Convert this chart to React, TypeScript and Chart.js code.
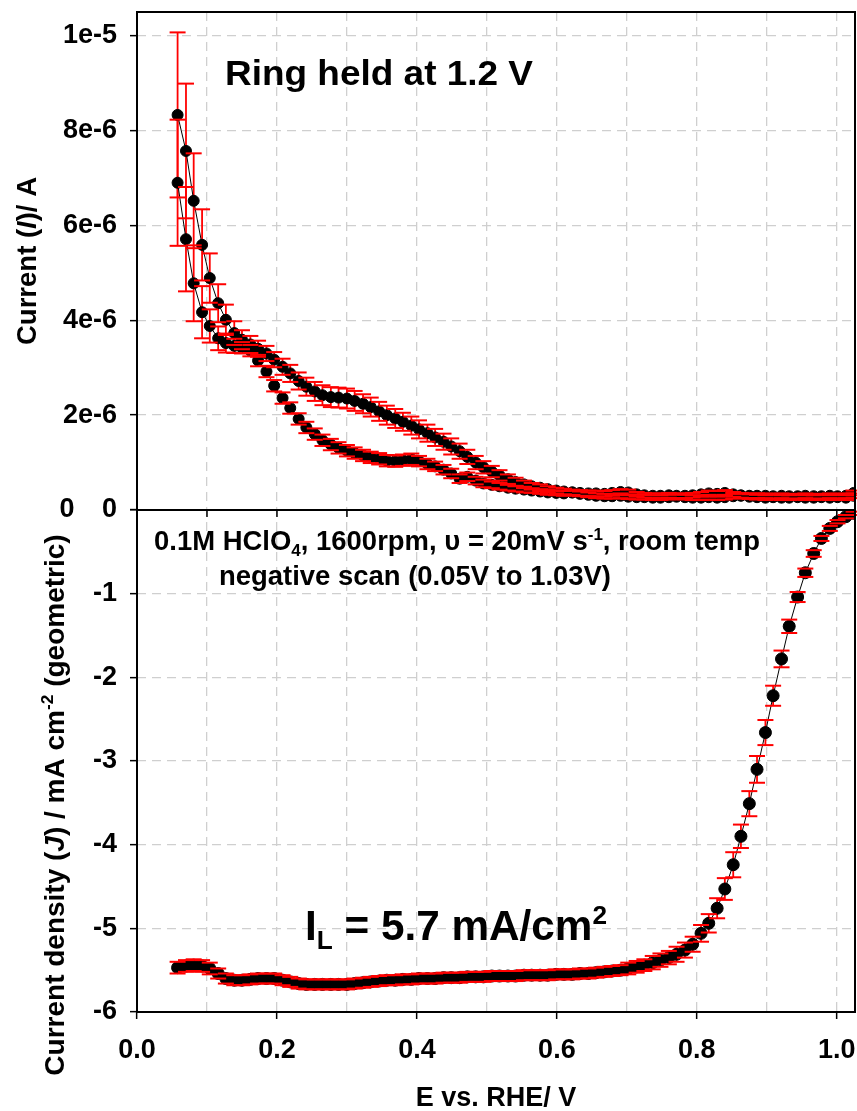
import React, { useEffect, useRef } from 'react';
import { Chart, registerables } from 'chart.js';

Chart.register(...registerables);

// ---------------- DATA ----------------
const potentialV = [
  0.058, 0.070, 0.081, 0.093, 0.104, 0.116, 0.127, 0.139, 0.150, 0.162,
  0.173, 0.185, 0.196, 0.208, 0.219, 0.231, 0.242, 0.254, 0.265, 0.277,
  0.288, 0.300, 0.311, 0.323, 0.334, 0.346, 0.357, 0.369, 0.380, 0.392,
  0.403, 0.415, 0.426, 0.438, 0.449, 0.461, 0.472, 0.484, 0.495, 0.507,
  0.518, 0.530, 0.541, 0.553, 0.564, 0.576, 0.587, 0.599, 0.610, 0.622,
  0.633, 0.645, 0.656, 0.668, 0.679, 0.691, 0.702, 0.714, 0.725, 0.737,
  0.748, 0.760, 0.771, 0.783, 0.794, 0.806, 0.817, 0.829, 0.840, 0.852,
  0.863, 0.875, 0.886, 0.898, 0.909, 0.921, 0.932, 0.944, 0.955, 0.967,
  0.978, 0.990, 1.001, 1.013, 1.024,
];

// ring current, upper branch (in 1e-6 A)
const ringUpperMicroA = [
  8.33, 7.57, 6.52, 5.59, 4.89, 4.36, 4.01, 3.73, 3.59, 3.49,
  3.40, 3.30, 3.17, 3.02, 2.88, 2.72, 2.60, 2.50, 2.42, 2.38,
  2.37, 2.35, 2.30, 2.24, 2.17, 2.08, 2.00, 1.93, 1.86, 1.78,
  1.70, 1.62, 1.53, 1.44, 1.34, 1.24, 1.12, 1.00, 0.90, 0.81,
  0.73, 0.65, 0.59, 0.54, 0.50, 0.47, 0.44, 0.41, 0.39, 0.37,
  0.36, 0.35, 0.35, 0.34, 0.36, 0.38, 0.37, 0.33, 0.31, 0.30,
  0.30, 0.31, 0.30, 0.30, 0.31, 0.33, 0.35, 0.34, 0.36, 0.33,
  0.31, 0.30, 0.30, 0.30, 0.29, 0.30, 0.29, 0.29, 0.30, 0.29,
  0.29, 0.30, 0.29, 0.30, 0.36,
];
const ringUpperErrMicroA = [
  1.74, 1.42, 1.00, 0.75, 0.52, 0.40, 0.32, 0.25, 0.20, 0.18,
  0.17, 0.16, 0.16, 0.17, 0.18, 0.18, 0.19, 0.20, 0.21, 0.21,
  0.21, 0.21, 0.21, 0.20, 0.20, 0.20, 0.20, 0.20, 0.19, 0.19,
  0.19, 0.18, 0.18, 0.17, 0.17, 0.16, 0.15, 0.14, 0.13, 0.12,
  0.11, 0.10, 0.09, 0.08, 0.07, 0.07, 0.06, 0.06, 0.06, 0.06,
  0.06, 0.06, 0.06, 0.06, 0.06, 0.06, 0.06, 0.05, 0.05, 0.05,
  0.05, 0.05, 0.05, 0.05, 0.05, 0.05, 0.06, 0.06, 0.06, 0.05,
  0.05, 0.05, 0.05, 0.05, 0.05, 0.05, 0.05, 0.05, 0.05, 0.05,
  0.05, 0.05, 0.05, 0.05, 0.05,
];

// ring current, lower branch (in 1e-6 A)
const ringLowerMicroA = [
  6.90, 5.71, 4.78, 4.17, 3.88, 3.62, 3.52, 3.46, 3.42, 3.36,
  3.15, 2.92, 2.62, 2.36, 2.15, 1.92, 1.74, 1.60, 1.47, 1.38,
  1.31, 1.25, 1.20, 1.15, 1.11, 1.08, 1.04, 1.03, 1.05, 1.07,
  1.03, 0.97, 0.92, 0.85, 0.77, 0.66, 0.70, 0.62, 0.56, 0.53,
  0.50, 0.47, 0.45, 0.43, 0.41, 0.39, 0.37, 0.36, 0.35, 0.37,
  0.34, 0.32, 0.30, 0.29, 0.29, 0.30, 0.28, 0.27, 0.27, 0.26,
  0.26, 0.27, 0.28, 0.27, 0.26, 0.26, 0.27, 0.26, 0.27, 0.29,
  0.30, 0.28, 0.27, 0.26, 0.27, 0.26, 0.26, 0.27, 0.26, 0.26,
  0.27, 0.26, 0.27, 0.26, 0.30,
];
const ringLowerErrMicroA = [
  1.33, 1.10, 0.80, 0.55, 0.35, 0.25, 0.20, 0.15, 0.12, 0.12,
  0.12, 0.12, 0.12, 0.12, 0.12, 0.12, 0.12, 0.12, 0.12, 0.12,
  0.12, 0.12, 0.12, 0.12, 0.12, 0.12, 0.12, 0.12, 0.12, 0.12,
  0.11, 0.11, 0.10, 0.10, 0.10, 0.09, 0.09, 0.08, 0.08, 0.07,
  0.07, 0.06, 0.06, 0.06, 0.05, 0.05, 0.05, 0.05, 0.05, 0.05,
  0.05, 0.05, 0.05, 0.05, 0.05, 0.05, 0.05, 0.05, 0.05, 0.05,
  0.05, 0.05, 0.05, 0.05, 0.05, 0.05, 0.05, 0.05, 0.05, 0.05,
  0.05, 0.05, 0.05, 0.05, 0.05, 0.05, 0.05, 0.05, 0.05, 0.05,
  0.05, 0.05, 0.05, 0.05, 0.05,
];

// disk current density (mA cm^-2)
const diskCurrentDensity = [
  -5.47, -5.45, -5.44, -5.45, -5.48, -5.54, -5.60, -5.62, -5.62, -5.61,
  -5.60, -5.60, -5.60, -5.62, -5.64, -5.66, -5.67, -5.67, -5.67, -5.67,
  -5.67, -5.67, -5.66, -5.65, -5.64, -5.63, -5.62, -5.62, -5.61, -5.61,
  -5.60, -5.60, -5.60, -5.59, -5.59, -5.59, -5.58, -5.58, -5.58, -5.57,
  -5.57, -5.57, -5.57, -5.56, -5.56, -5.56, -5.56, -5.55, -5.55, -5.55,
  -5.54, -5.54, -5.53, -5.52, -5.51, -5.50, -5.48, -5.46, -5.44, -5.41,
  -5.38, -5.35, -5.31, -5.26, -5.19, -5.06, -4.94, -4.76, -4.53, -4.24,
  -3.90, -3.51, -3.10, -2.66, -2.22, -1.78, -1.39, -1.04, -0.75, -0.52,
  -0.34, -0.22, -0.14, -0.08, -0.04,
];
const diskErr = [
  0.07, 0.07, 0.07, 0.07, 0.07, 0.06, 0.06, 0.06, 0.06, 0.06,
  0.06, 0.06, 0.06, 0.06, 0.06, 0.06, 0.06, 0.06, 0.06, 0.06,
  0.06, 0.06, 0.06, 0.06, 0.06, 0.06, 0.06, 0.06, 0.06, 0.06,
  0.06, 0.06, 0.06, 0.06, 0.06, 0.06, 0.06, 0.06, 0.06, 0.06,
  0.06, 0.06, 0.06, 0.06, 0.06, 0.06, 0.06, 0.06, 0.06, 0.06,
  0.06, 0.06, 0.06, 0.06, 0.06, 0.06, 0.07, 0.07, 0.07, 0.08,
  0.08, 0.08, 0.09, 0.09, 0.09, 0.10, 0.11, 0.12, 0.13, 0.15,
  0.14, 0.15, 0.16, 0.15, 0.12, 0.10, 0.08, 0.06, 0.05, 0.04,
  0.03, 0.03, 0.02, 0.02, 0.02,
];

const xTickLabels = ['0.0', '0.2', '0.4', '0.6', '0.8', '1.0'];
const ringTickLabels = ['0', '2e-6', '4e-6', '6e-6', '8e-6', '1e-5'];
const diskTickLabels = ['-6', '-5', '-4', '-3', '-2', '-1', '0'];

// ---------------- HELPERS ----------------
const FAMILY = '"Liberation Sans", Arial, Helvetica, sans-serif';

type Seg = { t: string; italic?: boolean; sub?: boolean; sup?: boolean };

function segFont(s: Seg, size: number) {
  const sz = s.sub || s.sup ? size * 0.62 : size;
  return `${s.italic ? 'italic ' : ''}bold ${sz}px ${FAMILY}`;
}

function richWidth(ctx: CanvasRenderingContext2D, segs: Seg[], size: number) {
  let w = 0;
  for (const s of segs) {
    ctx.font = segFont(s, size);
    w += ctx.measureText(s.t).width;
  }
  return w;
}

function drawRich(
  ctx: CanvasRenderingContext2D,
  segs: Seg[],
  o: { x: number; y: number; size: number; width?: number; align?: 'left' | 'center'; rotate?: boolean }
) {
  ctx.save();
  ctx.translate(o.x, o.y);
  if (o.rotate) ctx.rotate(-Math.PI / 2);
  const natural = richWidth(ctx, segs, o.size);
  const sx = o.width ? o.width / natural : 1;
  ctx.scale(sx, 1);
  let cx = o.align === 'center' ? -natural / 2 : 0;
  ctx.textBaseline = 'alphabetic';
  ctx.textAlign = 'left';
  ctx.fillStyle = '#000';
  for (const s of segs) {
    ctx.font = segFont(s, o.size);
    const dy = s.sub ? o.size * 0.22 : s.sup ? -o.size * 0.38 : 0;
    ctx.fillText(s.t, cx, dy);
    cx += ctx.measureText(s.t).width;
  }
  ctx.restore();
}

const errorBarPlugin = {
  id: 'errorBars',
  beforeDatasetsDraw(chart: any) {
    const { ctx } = chart;
    ctx.save();
    ctx.strokeStyle = '#ff0000';
    ctx.lineWidth = 1.8;
    chart.data.datasets.forEach((ds: any) => {
      const ys = chart.scales[ds.yAxisID];
      const xs = chart.scales.x;
      ds.data.forEach((p: any, i: number) => {
        const e = ds.errors[i] * ds.errScale;
        const px = xs.getPixelForValue(p.x);
        ctx.beginPath();
        ctx.moveTo(px, ys.getPixelForValue(p.y - e));
        ctx.lineTo(px, ys.getPixelForValue(p.y + e));
        ctx.stroke();
      });
    });
    ctx.restore();
  },
  afterDatasetsDraw(chart: any) {
    const { ctx } = chart;
    ctx.save();
    ctx.strokeStyle = '#ff0000';
    ctx.lineWidth = 2;
    chart.data.datasets.forEach((ds: any) => {
      const ys = chart.scales[ds.yAxisID];
      const xs = chart.scales.x;
      ds.data.forEach((p: any, i: number) => {
        const e = ds.errors[i] * ds.errScale;
        const px = xs.getPixelForValue(p.x);
        [p.y - e, p.y + e].forEach((v) => {
          const py = ys.getPixelForValue(v);
          ctx.beginPath();
          ctx.moveTo(px - 8, py);
          ctx.lineTo(px + 8, py);
          ctx.stroke();
        });
      });
    });
    ctx.restore();
  },
};

const framePlugin = {
  id: 'frame',
  afterDatasetsDraw(chart: any) {
    const { ctx, chartArea: a } = chart;
    const yTop = chart.scales.yTop;
    const xs = chart.scales.x;
    const mid = yTop.getPixelForValue(0);
    ctx.save();
    ctx.strokeStyle = '#000';
    ctx.lineWidth = 2;
    ctx.strokeRect(a.left, a.top, a.right - a.left, a.bottom - a.top);
    ctx.beginPath();
    ctx.moveTo(a.left, mid);
    ctx.lineTo(a.right, mid);
    ctx.stroke();
    ctx.lineWidth = 1.5;
    xs.ticks.forEach((t: any) => {
      if (t.value === 0) return;
      const px = xs.getPixelForValue(t.value);
      ctx.beginPath();
      ctx.moveTo(px, mid);
      ctx.lineTo(px, mid + 7);
      ctx.stroke();
    });
    ctx.restore();
  },
  afterDraw(chart: any) {
    const { ctx } = chart;
    const yBot = chart.scales.yBot;
    const a = chart.chartArea;
    // second zero label of the lower axis
    ctx.save();
    ctx.font = `bold 27px ${FAMILY}`;
    ctx.fillStyle = '#000';
    ctx.textAlign = 'center';
    ctx.textBaseline = 'middle';
    ctx.fillText(diskTickLabels[6], 67, yBot.getPixelForValue(0));
    ctx.restore();

    drawRich(ctx, [{ t: 'Ring held at 1.2 V' }], { x: 225, y: 85, size: 35, width: 308 });
    drawRich(
      ctx,
      [
        { t: '0.1M HClO' },
        { t: '4', sub: true },
        { t: ', 1600rpm, \u03C5 = 20mV s' },
        { t: '-1', sup: true },
        { t: ', room temp' },
      ],
      { x: 154, y: 550, size: 27, width: 606 }
    );
    drawRich(ctx, [{ t: 'negative scan (0.05V to 1.03V)' }], { x: 219, y: 585, size: 27, width: 392 });
    drawRich(
      ctx,
      [{ t: 'I' }, { t: 'L', sub: true }, { t: ' = 5.7 mA/cm' }, { t: '2', sup: true }],
      { x: 305, y: 940, size: 42, width: 302 }
    );
    drawRich(ctx, [{ t: 'E vs. RHE/ V' }], {
      x: (a.left + a.right) / 2,
      y: 1106,
      size: 27,
      align: 'center',
    });
    drawRich(
      ctx,
      [{ t: 'Current (' }, { t: 'I', italic: true }, { t: ')/ A' }],
      { x: 36, y: 261, size: 27, width: 168, align: 'center', rotate: true }
    );
    drawRich(
      ctx,
      [
        { t: 'Current density (' },
        { t: 'J', italic: true },
        { t: ') / mA cm' },
        { t: '-2', sup: true },
        { t: ' (geometric)' },
      ],
      { x: 64, y: 805, size: 28, align: 'center', rotate: true }
    );
  },
};

const gridColor = '#cfcfcf';

function zeroPadding(s: any) {
  s.paddingTop = 0;
  s.paddingBottom = 0;
  s.paddingLeft = 0;
  s.paddingRight = 0;
}

export default function App() {
  const ref = useRef<HTMLCanvasElement | null>(null);

  useEffect(() => {
    document.body.style.margin = '0';
    const canvas = ref.current;
    if (!canvas) return;

    const tickFont = { family: FAMILY, weight: 'bold' as const, size: 27 };

    const pointStyle = (r: number) => ({
      showLine: true,
      borderColor: '#000',
      borderWidth: 1,
      pointRadius: r,
      pointBackgroundColor: '#000',
      pointBorderColor: '#000',
      pointBorderWidth: 1,
    });

    const chart = new Chart(canvas, {
      type: 'scatter',
      data: {
        datasets: [
          {
            label: 'Ring upper',
            yAxisID: 'yTop',
            data: potentialV.map((x, i) => ({ x, y: ringUpperMicroA[i] * 1e-6 })),
            errors: ringUpperErrMicroA,
            errScale: 1e-6,
            ...pointStyle(5.5),
          } as any,
          {
            label: 'Ring lower',
            yAxisID: 'yTop',
            data: potentialV.map((x, i) => ({ x, y: ringLowerMicroA[i] * 1e-6 })),
            errors: ringLowerErrMicroA,
            errScale: 1e-6,
            ...pointStyle(5.5),
          } as any,
          {
            label: 'Disk',
            yAxisID: 'yBot',
            data: potentialV.map((x, i) => ({ x, y: diskCurrentDensity[i] })),
            errors: diskErr,
            errScale: 1,
            ...pointStyle(6),
          } as any,
        ],
      },
      options: {
        responsive: false,
        animation: false,
        devicePixelRatio: 1,
        layout: { padding: { left: 0, right: 2, top: 12, bottom: 0 }, autoPadding: false } as any,
        plugins: { legend: { display: false }, tooltip: { enabled: false } },
        scales: {
          x: {
            type: 'linear',
            min: 0,
            max: 1.026,
            afterFit: (s: any) => {
              s.height = 99;
              zeroPadding(s);
            },
            ticks: {
              stepSize: 0.1,
              includeBounds: false,
              autoSkip: false,
              maxRotation: 0,
              padding: 15,
              color: '#000',
              font: tickFont,
              callback: (v: any) => {
                const k = Math.round(Number(v) * 10);
                return k % 2 === 0 ? xTickLabels[k / 2] : '';
              },
            },
            grid: {
              color: (c: any) => (c.tick && c.tick.value === 0 ? 'rgba(0,0,0,0)' : gridColor),
              lineWidth: 1.3,
              tickLength: 7,
              tickWidth: 1.5,
              tickColor: (c: any) =>
                c.tick && Math.round(c.tick.value * 10) % 2 === 0 ? '#000' : 'rgba(0,0,0,0)',
            },
            border: { display: false, dash: [9, 6] },
          },
          yBot: {
            type: 'linear',
            position: 'left',
            stack: 'panels',
            stackWeight: 502,
            min: -6,
            max: 0,
            afterFit: (s: any) => {
              s.width = 137;
              zeroPadding(s);
            },
            ticks: {
              stepSize: 1,
              includeBounds: false,
              padding: 13,
              color: '#000',
              font: tickFont,
              callback: (v: any) => {
                const k = Math.round(Number(v)) + 6;
                return k === 6 ? '' : diskTickLabels[k];
              },
            },
            grid: {
              color: (c: any) => (c.tick && c.tick.value === 0 ? 'rgba(0,0,0,0)' : gridColor),
              lineWidth: 1.3,
              tickLength: 7,
              tickWidth: 1.5,
              tickColor: '#000',
            },
            border: { display: false, dash: [9, 6] },
          },
          yTop: {
            type: 'linear',
            position: 'left',
            stack: 'panels',
            stackWeight: 498,
            min: 0,
            max: 1.05e-5,
            afterFit: (s: any) => {
              s.width = 137;
              zeroPadding(s);
            },
            ticks: {
              stepSize: 2e-6,
              includeBounds: false,
              padding: 13,
              color: '#000',
              font: tickFont,
              callback: (v: any) => ringTickLabels[Math.round(Number(v) / 2e-6)] ?? '',
            },
            grid: {
              color: (c: any) => (c.tick && Math.abs(c.tick.value) < 1e-9 ? 'rgba(0,0,0,0)' : gridColor),
              lineWidth: 1.3,
              tickLength: 7,
              tickWidth: 1.5,
              tickColor: '#000',
            },
            border: { display: false, dash: [9, 6] },
          },
        } as any,
      },
      plugins: [errorBarPlugin, framePlugin],
    });

    return () => chart.destroy();
  }, []);

  return (
    <div style={{ position: 'absolute', left: 0, top: 0, width: 857, height: 1111, background: '#fff' }}>
      <canvas ref={ref} width={857} height={1111} style={{ width: 857, height: 1111 }} />
    </div>
  );
}
